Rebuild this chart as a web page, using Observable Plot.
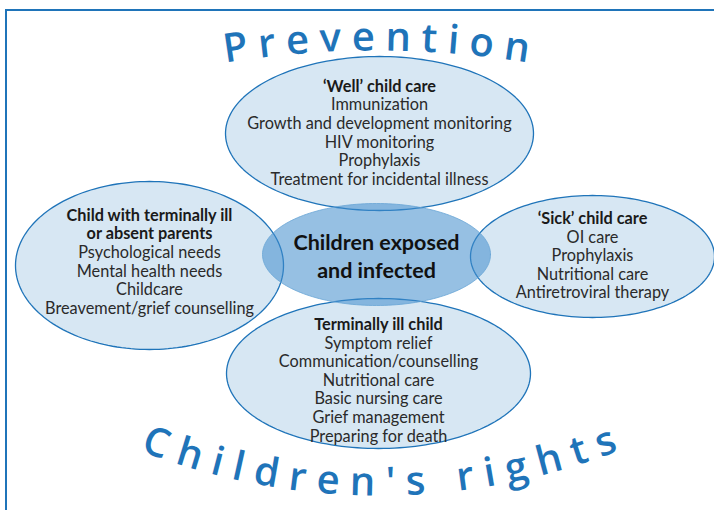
<!DOCTYPE html>
<html>
<head>
<meta charset="utf-8">
<script src="https://cdn.jsdelivr.net/npm/d3@7"></script>
<script src="https://cdn.jsdelivr.net/npm/@observablehq/plot@0.6"></script>
<style>
  html, body { margin: 0; padding: 0; background: #fff; }
  svg { display: block; }
</style>
</head>
<body>
<script>
// ---------- content ----------
const nodeNames = ["well", "parents", "sick", "terminal"];
const nodeHeadings = [
  ["\u2018Well\u2019 child care"],
  ["Child with terminally ill", "or absent parents"],
  ["\u2018Sick\u2019 child care"],
  ["Terminally ill child"]
];
const nodeItems = [
  ["Immunization", "Growth and development monitoring", "HIV monitoring", "Prophylaxis", "Treatment for incidental illness"],
  ["Psychological needs", "Mental health needs", "Childcare", "Breavement/grief counselling"],
  ["OI care", "Prophylaxis", "Nutritional care", "Antiretroviral therapy"],
  ["Symptom relief", "Communication/counselling", "Nutritional care", "Basic nursing care", "Grief management", "Preparing for death"]
];
const centerLabel = ["Children exposed", "and infected"];
const topArcLabel = "Prevention";
const bottomArcLabel = "Children's rights";

// ---------- layout (diagram geometry) ----------
const ellipseLayout = [
  {cx: 379, cy: 133, rx: 154, ry: 77, textY: 132.5},
  {cx: 149, cy: 265, rx: 134, ry: 84, textY: 261.5},
  {cx: 592, cy: 256, rx: 122, ry: 61, textY: 255.5},
  {cx: 378, cy: 373, rx: 152, ry: 75, textY: 380}
];
const centerLayout = {cx: 376, cy: 254, rx: 114, ry: 51, textY: 257};
const lineH = 18.6;
const bodyFont = "Lato";
const arcFont = "Open Sans";

function ellipsePts(e, key) {
  return d3.range(0, 181).map(i => {
    const t = (i / 180) * 2 * Math.PI;
    return {k: key, x: e.cx + e.rx * Math.cos(t), y: e.cy + e.ry * Math.sin(t)};
  });
}

const textLines = [];
nodeNames.forEach((name, i) => {
  const L = ellipseLayout[i];
  const lines = nodeHeadings[i].map(s => ({s, bold: true})).concat(nodeItems[i].map(s => ({s, bold: false})));
  const y0 = L.textY - (lines.length - 1) * lineH / 2;
  lines.forEach((ln, j) => textLines.push({text: ln.s, bold: ln.bold, x: L.cx, y: y0 + j * lineH}));
});
const centerLines = centerLabel.map((s, j) => ({text: s, x: centerLayout.cx, y: centerLayout.textY + (j - 0.5) * 28}));

const ctx = document.createElement("canvas").getContext("2d");
function arcLetters(str, font, apexX, apexY, R, span, up) {
  ctx.font = font;
  const chars = Array.from(str);
  const widths = chars.map(c => ctx.measureText(c).width);
  const sum = d3.sum(widths);
  const gap = (span - sum) / (chars.length - 1);
  let s = -span / 2;
  const out = [];
  chars.forEach((c, i) => {
    const mid = s + widths[i] / 2;
    s += widths[i] + gap;
    if (c === " ") return;
    const th = mid / R;
    if (up) out.push({c, x: apexX + R * Math.sin(th), y: apexY + R - R * Math.cos(th), r: th * 180 / Math.PI});
    else out.push({c, x: apexX + R * Math.sin(th), y: apexY - R + R * Math.cos(th), r: -th * 180 / Math.PI});
  });
  return out;
}
const arcSize = 40;
const topLetters = arcLetters(topArcLabel, `600 ${arcSize}px '${arcFont}'`, 376, 50, 950, 304, true);
const bottomLetters = arcLetters(bottomArcLabel, `600 ${arcSize}px '${arcFont}'`, 379, 495, 660, 490, false);

const blue = "#1f74b9";
const marks = [];
ellipseLayout.forEach((e, i) => {
  marks.push(Plot.line(ellipsePts(e, i), {x: "x", y: "y", curve: "linear-closed", fill: "#d7e7f3", stroke: blue, strokeWidth: 1.3}));
});
marks.push(Plot.line(ellipsePts(centerLayout, "c"), {x: "x", y: "y", curve: "linear-closed", fill: "#3f8dcc", fillOpacity: 0.55, stroke: "#6aa6d6", strokeWidth: 0.8}));
marks.push(Plot.text(textLines.filter(d => !d.bold), {x: "x", y: "y", text: "text", fontSize: 16.3, fontFamily: bodyFont, fill: "#2a2a2a", lineAnchor: "middle"}));
marks.push(Plot.text(textLines.filter(d => d.bold), {x: "x", y: "y", text: "text", fontWeight: "bold", fontSize: 16.3, fontFamily: bodyFont, fill: "#1a1a1a", lineAnchor: "middle"}));
marks.push(Plot.text(centerLines, {x: "x", y: "y", text: "text", fontWeight: "bold", fontSize: 21.5, fontFamily: bodyFont, fill: "#111", lineAnchor: "middle"}));
marks.push(Plot.text(topLetters, {x: "x", y: "y", text: "c", rotate: "r", fontSize: arcSize, fontWeight: 600, fontFamily: arcFont, fill: blue, lineAnchor: "bottom"}));
marks.push(Plot.text(bottomLetters, {x: "x", y: "y", text: "c", rotate: "r", fontSize: arcSize, fontWeight: 600, fontFamily: arcFont, fill: blue, lineAnchor: "bottom"}));
marks.push(Plot.ruleY([9.5], {x1: 5, x2: 714, stroke: blue, strokeWidth: 2}));
marks.push(Plot.ruleX([5.5], {y1: 9.5, y2: 510, stroke: blue, strokeWidth: 2}));

const chart = Plot.plot({
  width: 714,
  height: 510,
  margin: 0,
  x: {domain: [0, 714], range: [0, 714], axis: null},
  y: {domain: [0, 510], range: [0, 510], axis: null},
  style: {background: "#fff", fontFamily: bodyFont},
  marks
});
document.body.appendChild(chart);
</script>
</body>
</html>
